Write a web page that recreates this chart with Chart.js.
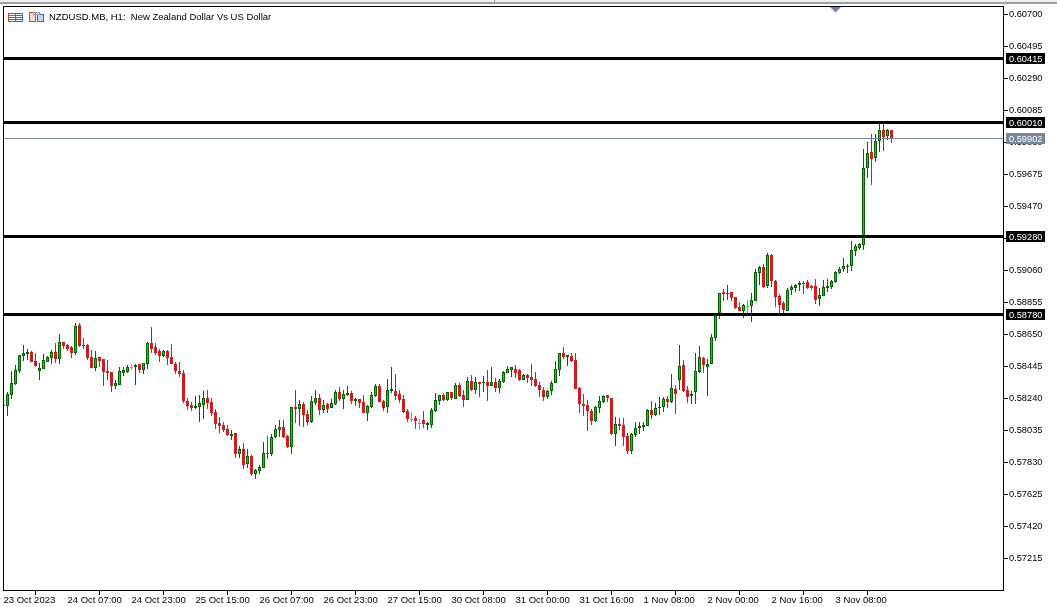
<!DOCTYPE html>
<html>
<head>
<meta charset="utf-8">
<title>NZDUSD.MB, H1</title>
<style>
  html, body { margin: 0; padding: 0; background: #fff; }
  #wrap { width: 1057px; height: 607px; }
</style>
<script src="https://cdn.jsdelivr.net/npm/chart.js@4/dist/chart.umd.min.js"></script>
</head>
<body>
<div id="wrap"><canvas id="chart" width="1057" height="607"></canvas></div>
<script>
const opens = [
  0.58195,0.58191,0.58264,0.58334,0.58417,0.58514,0.58526,0.58537,0.58479,0.58417,
  0.58430,0.58475,0.58501,0.58537,0.58494,0.58601,0.58582,0.58569,0.58533,0.58710,
  0.58580,0.58582,0.58505,0.58437,0.58505,0.58490,0.58415,0.58409,0.58321,0.58328,
  0.58405,0.58411,0.58441,0.58439,0.58458,0.58424,0.58462,0.58592,0.58567,0.58543,
  0.58511,0.58543,0.58505,0.58460,0.58415,0.58402,0.58223,0.58198,0.58178,0.58185,
  0.58198,0.58242,0.58217,0.58153,0.58082,0.58069,0.58043,0.57998,0.58017,0.57883,
  0.57915,0.57819,0.57870,0.57755,0.57774,0.57793,0.57889,0.57883,0.57992,0.58037,
  0.58056,0.57998,0.57928,0.58184,0.58171,0.58203,0.58139,0.58088,0.58210,0.58242,
  0.58165,0.58203,0.58180,0.58203,0.58280,0.58235,0.58261,0.58274,0.58222,0.58235,
  0.58216,0.58146,0.58184,0.58254,0.58319,0.58223,0.58185,0.58287,0.58287,0.58268,
  0.58236,0.58159,0.58110,0.58114,0.58080,0.58102,0.58070,0.58070,0.58159,0.58223,
  0.58262,0.58230,0.58281,0.58236,0.58326,0.58262,0.58230,0.58351,0.58294,0.58345,
  0.58341,0.58345,0.58319,0.58345,0.58307,0.58345,0.58403,0.58422,0.58428,0.58422,
  0.58358,0.58390,0.58377,0.58364,0.58326,0.58294,0.58249,0.58287,0.58339,0.58422,
  0.58531,0.58505,0.58512,0.58486,0.58307,0.58204,0.58198,0.58159,0.58095,0.58178,
  0.58217,0.58262,0.58242,0.58012,0.58076,0.58070,0.57999,0.57903,0.58005,0.58050,
  0.58057,0.58063,0.58166,0.58134,0.58178,0.58185,0.58236,0.58217,0.58300,0.58358,
  0.58454,0.58294,0.58255,0.58281,0.58409,0.58499,0.58441,0.58460,0.58627,0.58786,
  0.58921,0.58908,0.58921,0.58889,0.58825,0.58799,0.58829,0.58831,0.58863,0.59043,
  0.59081,0.58959,0.59158,0.58991,0.58895,0.58850,0.58803,0.58934,0.58947,0.58966,
  0.58979,0.58985,0.58959,0.58959,0.58876,0.58895,0.58947,0.58953,0.58985,0.59043,
  0.59068,0.59081,0.59087,0.59183,0.59203,0.59222,0.59716,0.59818,0.59780,0.59888,
  0.59959,0.59920,0.59959
];
const highs = [
  0.58195,0.58281,0.58415,0.58454,0.58516,0.58582,0.58556,0.58543,0.58533,0.58464,
  0.58524,0.58514,0.58550,0.58595,0.58652,0.58601,0.58590,0.58575,0.58721,0.58721,
  0.58627,0.58590,0.58550,0.58543,0.58505,0.58490,0.58486,0.58409,0.58358,0.58441,
  0.58441,0.58454,0.58460,0.58458,0.58458,0.58464,0.58601,0.58695,0.58595,0.58556,
  0.58550,0.58550,0.58588,0.58473,0.58473,0.58420,0.58240,0.58215,0.58255,0.58262,
  0.58287,0.58294,0.58242,0.58172,0.58121,0.58088,0.58069,0.58037,0.58017,0.57934,
  0.57953,0.57915,0.57877,0.57787,0.57813,0.57960,0.58000,0.58011,0.58069,0.58101,
  0.58101,0.58005,0.58184,0.58293,0.58229,0.58216,0.58165,0.58254,0.58293,0.58267,
  0.58229,0.58210,0.58235,0.58293,0.58312,0.58293,0.58319,0.58286,0.58242,0.58235,
  0.58261,0.58197,0.58280,0.58331,0.58331,0.58230,0.58364,0.58441,0.58396,0.58294,
  0.58262,0.58172,0.58153,0.58127,0.58108,0.58159,0.58089,0.58178,0.58275,0.58262,
  0.58275,0.58281,0.58281,0.58339,0.58339,0.58294,0.58377,0.58390,0.58377,0.58345,
  0.58383,0.58422,0.58441,0.58371,0.58364,0.58415,0.58447,0.58441,0.58454,0.58428,
  0.58396,0.58396,0.58460,0.58409,0.58345,0.58313,0.58294,0.58351,0.58479,0.58531,
  0.58569,0.58518,0.58531,0.58531,0.58313,0.58268,0.58230,0.58172,0.58191,0.58255,
  0.58262,0.58262,0.58242,0.58121,0.58114,0.58114,0.58018,0.58018,0.58089,0.58089,
  0.58089,0.58172,0.58223,0.58210,0.58249,0.58249,0.58255,0.58396,0.58326,0.58582,
  0.58486,0.58319,0.58287,0.58531,0.58576,0.58505,0.58492,0.58652,0.58790,0.58914,
  0.58940,0.58966,0.58921,0.58889,0.58857,0.58844,0.58870,0.58914,0.59068,0.59087,
  0.59100,0.59171,0.59164,0.58998,0.58908,0.58863,0.58947,0.58966,0.58972,0.58991,
  0.58991,0.58998,0.58966,0.59004,0.58947,0.58998,0.59004,0.58998,0.59055,0.59081,
  0.59139,0.59100,0.59248,0.59228,0.59235,0.59837,0.59882,0.59933,0.59933,0.59997,
  0.59997,0.59965,0.59959
];
const lows = [
  0.58191,0.58127,0.58236,0.58326,0.58402,0.58481,0.58486,0.58471,0.58441,0.58358,
  0.58426,0.58471,0.58460,0.58464,0.58460,0.58556,0.58546,0.58499,0.58520,0.58571,
  0.58556,0.58486,0.58435,0.58415,0.58441,0.58319,0.58358,0.58281,0.58300,0.58328,
  0.58385,0.58402,0.58422,0.58326,0.58402,0.58396,0.58428,0.58531,0.58518,0.58473,
  0.58507,0.58454,0.58460,0.58396,0.58377,0.58212,0.58165,0.58159,0.58172,0.58089,
  0.58108,0.58172,0.58127,0.58044,0.58018,0.58024,0.58000,0.57973,0.57857,0.57857,
  0.57787,0.57793,0.57742,0.57723,0.57755,0.57793,0.57851,0.57870,0.57985,0.57992,
  0.57985,0.57921,0.57883,0.58082,0.58062,0.58056,0.58069,0.58082,0.58197,0.58133,
  0.58146,0.58146,0.58178,0.58197,0.58222,0.58171,0.58254,0.58203,0.58190,0.58178,
  0.58146,0.58094,0.58178,0.58248,0.58216,0.58159,0.58146,0.58275,0.58230,0.58210,
  0.58146,0.58089,0.58089,0.58044,0.58038,0.58050,0.58038,0.58050,0.58153,0.58198,
  0.58223,0.58223,0.58230,0.58236,0.58249,0.58185,0.58230,0.58287,0.58268,0.58249,
  0.58281,0.58223,0.58319,0.58281,0.58275,0.58339,0.58403,0.58377,0.58371,0.58351,
  0.58358,0.58339,0.58319,0.58313,0.58249,0.58223,0.58236,0.58262,0.58339,0.58383,
  0.58492,0.58447,0.58473,0.58300,0.58146,0.58127,0.58031,0.58070,0.58089,0.58146,
  0.58210,0.58217,0.58005,0.57935,0.58037,0.57935,0.57884,0.57884,0.57993,0.58012,
  0.58031,0.58063,0.58108,0.58127,0.58134,0.58153,0.58178,0.58210,0.58140,0.58294,
  0.58281,0.58210,0.58204,0.58204,0.58403,0.58403,0.58255,0.58460,0.58608,0.58748,
  0.58863,0.58870,0.58863,0.58812,0.58799,0.58754,0.58786,0.58729,0.58863,0.58966,
  0.58947,0.58947,0.58953,0.58825,0.58786,0.58786,0.58799,0.58902,0.58921,0.58927,
  0.58908,0.58940,0.58934,0.58844,0.58831,0.58895,0.58921,0.58940,0.58979,0.59036,
  0.59049,0.59043,0.59055,0.59151,0.59190,0.59190,0.59651,0.59607,0.59754,0.59818,
  0.59824,0.59895,0.59876
];
const closes = [
  0.58191,0.58268,0.58336,0.58420,0.58516,0.58528,0.58535,0.58475,0.58449,0.58432,
  0.58484,0.58503,0.58535,0.58492,0.58599,0.58575,0.58556,0.58533,0.58704,0.58575,
  0.58578,0.58499,0.58437,0.58496,0.58481,0.58411,0.58405,0.58321,0.58336,0.58413,
  0.58420,0.58439,0.58441,0.58452,0.58422,0.58464,0.58595,0.58556,0.58531,0.58511,
  0.58541,0.58499,0.58460,0.58415,0.58396,0.58223,0.58191,0.58178,0.58191,0.58210,
  0.58242,0.58210,0.58146,0.58076,0.58063,0.58037,0.58005,0.58011,0.57883,0.57915,
  0.57813,0.57870,0.57755,0.57780,0.57800,0.57889,0.57885,0.57992,0.58043,0.58056,
  0.57992,0.57928,0.58184,0.58171,0.58203,0.58133,0.58088,0.58222,0.58242,0.58165,
  0.58197,0.58171,0.58210,0.58280,0.58235,0.58267,0.58274,0.58222,0.58235,0.58210,
  0.58146,0.58190,0.58261,0.58319,0.58216,0.58178,0.58294,0.58300,0.58255,0.58230,
  0.58153,0.58108,0.58110,0.58095,0.58080,0.58076,0.58082,0.58166,0.58230,0.58262,
  0.58230,0.58281,0.58243,0.58326,0.58255,0.58230,0.58351,0.58294,0.58345,0.58332,
  0.58345,0.58319,0.58345,0.58307,0.58351,0.58409,0.58428,0.58441,0.58403,0.58358,
  0.58390,0.58371,0.58358,0.58319,0.58294,0.58249,0.58287,0.58339,0.58428,0.58531,
  0.58505,0.58518,0.58479,0.58300,0.58204,0.58191,0.58159,0.58095,0.58185,0.58223,
  0.58255,0.58242,0.58010,0.58076,0.58063,0.57993,0.57903,0.58012,0.58050,0.58063,
  0.58070,0.58166,0.58134,0.58178,0.58183,0.58236,0.58217,0.58307,0.58268,0.58447,
  0.58287,0.58249,0.58268,0.58415,0.58505,0.58454,0.58460,0.58633,0.58786,0.58914,
  0.58908,0.58914,0.58882,0.58818,0.58799,0.58838,0.58829,0.58870,0.59049,0.59081,
  0.58953,0.59158,0.58991,0.58889,0.58838,0.58806,0.58934,0.58953,0.58966,0.58979,
  0.58976,0.58947,0.58947,0.58870,0.58902,0.58953,0.58959,0.58991,0.59049,0.59068,
  0.59087,0.59085,0.59190,0.59216,0.59228,0.59716,0.59812,0.59773,0.59888,0.59959,
  0.59914,0.59959,0.59901
];

const priceTicks = [0.60700,0.60495,0.60290,0.60085,0.59880,0.59675,0.59470,0.59265,0.59060,
  0.58855,0.58650,0.58445,0.58240,0.58035,0.57830,0.57625,0.57420,0.57215];
const timeTickBars = [0,16,32,48,64,80,96,112,128,144,160,176,192,208];
const timeTickLabels = ["23 Oct 2023","24 Oct 07:00","24 Oct 23:00","25 Oct 15:00","26 Oct 07:00",
  "26 Oct 23:00","27 Oct 15:00","30 Oct 08:00","31 Oct 00:00","31 Oct 16:00","1 Nov 08:00",
  "2 Nov 00:00","2 Nov 16:00","3 Nov 08:00"];
const levels = [0.60415, 0.60010, 0.59280, 0.58780];
const lastPrice = 0.59902;
const titleText = "NZDUSD.MB, H1:  New Zealand Dollar Vs US Dollar";

const FONT = "'Liberation Sans', Arial, sans-serif";
const UP = "#006400", UP_FILL = "#00dc00", DOWN = "#d01c1f", DOJI = "#22ee22";
const X_MIN = -0.125, X_MAX = 249.875;

const candleColor = (i) => opens[i] === closes[i] ? DOJI : closes[i] > opens[i] ? UP : DOWN;
const bars = opens.map((_, i) => i);

const levelSet = (v, color, width) => ({
  type: "line",
  data: [{ x: X_MIN, y: v }, { x: X_MAX, y: v }],
  borderColor: color,
  borderWidth: width,
  pointRadius: 0,
  order: 0,
});

// snaps the bars and level lines to whole pixels, keeps the candles sharp like the terminal
const snapPlugin = {
  id: "snap",
  beforeDatasetsDraw(chart) {
    chart.data.datasets.forEach((ds, n) => {
      chart.getDatasetMeta(n).data.forEach((el) => {
        if (ds.type === "line") {
          el.y = Math.floor(el.y) + 0.5;
        } else {
          el.y = Math.round(el.y);
          el.base = Math.round(el.base);
          if (el.y === el.base) el.base = el.y + 1;
        }
      });
    });
  },
};

const framePlugin = {
  id: "frame",
  beforeDraw(chart) {
    const c = chart.ctx;
    c.save();
    c.fillStyle = "#f0f0f0";
    c.fillRect(0, 0, 1057, 2);
    c.fillStyle = "#a0a0a0";
    c.fillRect(0, 2, 1057, 2);
    c.fillRect(494, 0, 1, 2);
    c.restore();
  },
  afterDraw(chart) {
    const c = chart.ctx, a = chart.chartArea, y = chart.scales.y;
    c.save();
    c.strokeStyle = "#000";
    c.lineWidth = 1;
    c.strokeRect(a.left + 0.5, a.top + 0.5, a.right - a.left, a.bottom - a.top);

    // price tags on the axis
    c.font = "9.25px " + FONT;
    c.textBaseline = "middle";
    c.textAlign = "left";
    const tag = (v, bg) => {
      const py = Math.floor(y.getPixelForValue(v));
      c.fillStyle = bg;
      c.fillRect(1006, py - 5, 39, 11);
      c.fillStyle = "#fff";
      c.fillText(v.toFixed(5), 1009, py + 1);
    };
    levels.forEach((v) => tag(v, "#000"));
    tag(lastPrice, "#778899");

    // chart title and the two small icons
    c.fillStyle = "#000";
    c.font = "9.5px " + FONT;
    c.fillText(titleText, 49, 17.5);
    c.lineWidth = 1;
    c.strokeStyle = "#e04030";
    c.strokeRect(8.5, 13.5, 7, 8);
    [15.5, 17.5, 19.5].forEach((ly) => {
      c.beginPath(); c.moveTo(9, ly); c.lineTo(15, ly); c.stroke();
    });
    c.strokeStyle = "#1e78c8";
    c.strokeRect(15.5, 13.5, 7, 8);
    [15.5, 17.5, 19.5].forEach((ly) => {
      c.beginPath(); c.moveTo(16, ly); c.lineTo(22, ly); c.stroke();
    });
    c.fillStyle = "#fbd8d0";
    c.fillRect(30, 13, 5, 9);
    c.strokeStyle = "#e04030";
    c.strokeRect(29.5, 12.5, 6, 9);
    c.fillStyle = "#bcd8f0";
    c.fillRect(38, 15, 5, 6);
    c.strokeStyle = "#1e78c8";
    c.strokeRect(37.5, 14.5, 6, 7);
    c.strokeStyle = "#999";
    c.strokeRect(33.5, 12.5, 6, 2);

    // start of period marker
    c.fillStyle = "#6f8299";
    c.beginPath();
    c.moveTo(830, 7);
    c.lineTo(841, 7);
    c.lineTo(835.5, 12.5);
    c.closePath();
    c.fill();
    c.restore();
  },
};

new Chart(document.getElementById("chart"), {
  type: "bar",
  data: {
    datasets: [
      ...levels.map((v) => levelSet(v, "#000", 3)),
      levelSet(lastPrice, "#778899", 1),
      {
        label: "body",
        data: bars.map((i) => ({ x: i, y: [opens[i], closes[i]] })),
        backgroundColor: (ctx) => closes[ctx.dataIndex] > opens[ctx.dataIndex] ? UP_FILL : candleColor(ctx.dataIndex),
        borderColor: (ctx) => candleColor(ctx.dataIndex),
        borderWidth: 1,
        borderSkipped: false,
        inflateAmount: 0,
        barThickness: 3,
        grouped: false,
        order: 1,
      },
      {
        label: "wick",
        data: bars.map((i) => ({ x: i, y: [lows[i], highs[i]] })),
        backgroundColor: (ctx) => candleColor(ctx.dataIndex),
        borderWidth: 0,
        inflateAmount: 0,
        barThickness: 1,
        grouped: false,
        order: 2,
      },
    ],
  },
  options: {
    responsive: false,
    animation: false,
    events: [],
    layout: { padding: { left: 3, top: 6, right: 0, bottom: 0 } },
    plugins: { legend: { display: false }, tooltip: { enabled: false } },
    scales: {
      x: {
        type: "linear",
        offset: false,
        min: X_MIN,
        max: X_MAX,
        afterBuildTicks: (s) => { s.ticks = timeTickBars.map((v) => ({ value: v })); },
        afterFit: (s) => { s.height = 17; s.paddingLeft = 0; s.paddingRight = 0; },
        grid: { drawOnChartArea: false, tickLength: 5, color: "#000", tickColor: "#000" },
        border: { color: "#000" },
        ticks: {
          autoSkip: false,
          maxRotation: 0,
          align: "start",
          padding: 0,
          color: "#000",
          font: { family: FONT, size: 9.5 },
          callback: (v, i) => timeTickLabels[i],
        },
      },
      y: {
        position: "right",
        min: 0.570126,
        max: 0.607538,
        afterBuildTicks: (s) => { s.ticks = priceTicks.map((v) => ({ value: v })); },
        afterFit: (s) => { s.width = 54; s.paddingTop = 0; s.paddingBottom = 0; },
        grid: { drawOnChartArea: false, tickLength: 5, color: "#000", tickColor: "#000" },
        border: { color: "#000" },
        ticks: {
          autoSkip: false,
          padding: 1,
          color: "#000",
          font: { family: FONT, size: 9.25 },
          callback: (v) => v.toFixed(5),
        },
      },
    },
  },
  plugins: [framePlugin, snapPlugin],
});
</script>
</body>
</html>
